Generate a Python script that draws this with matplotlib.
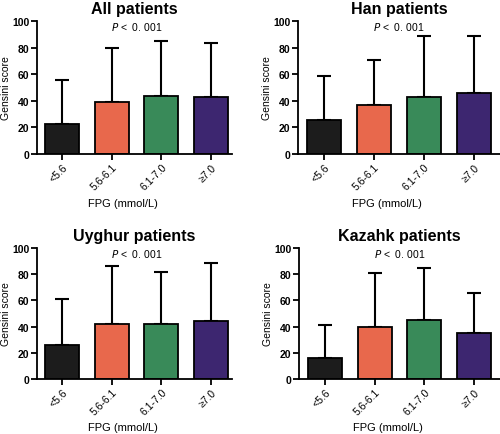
import numpy as np
import matplotlib.pyplot as plt

plt.rcParams['font.family'] = ['Liberation Sans', 'DejaVu Sans']

groups = ['<5.6', '5.6-6.1', '6.1-7.0', '≥7.0']
colors = ['#1c1c1c', '#e8684c', '#398a59', '#3d2670']

titles = ['All patients', 'Han patients', 'Uyghur patients', 'Kazahk patients']
means = [
    [22.6, 39.3, 43.4, 42.6],
    [25.6, 36.7, 42.5, 45.7],
    [25.6, 42.1, 42.1, 44.6],
    [16.0, 40.0, 45.3, 34.8],
]
upper = [
    [55.6, 79.4, 84.7, 83.7],
    [58.8, 70.9, 88.4, 88.7],
    [61.2, 86.0, 81.5, 88.5],
    [41.3, 80.8, 84.8, 65.5],
]

W, H = 500, 435
# axes boxes in pixels: left, top, right, bottom
boxes = [(37, 22, 232, 155), (298, 22, 500, 155),
         (37, 249, 232, 380), (299, 249, 500, 380)]
xlims = [(-0.5, 3.42), (-0.52, 3.52), (-0.5, 3.42), (-0.52, 3.52)]

fig = plt.figure(figsize=(W / 100, H / 100), dpi=100)

for i in range(4):
    l, t, r, b = boxes[i]
    ax = fig.add_axes([l / W, 1 - b / H, (r - l) / W, (b - t) / H])
    x = np.arange(len(groups))
    m = np.array(means[i])
    err = np.array(upper[i]) - m
    ax.bar(x, m, width=0.68, color=colors, edgecolor='black', linewidth=1.3, zorder=2)
    ax.errorbar(x, m, yerr=[np.zeros_like(err), err], fmt='none', ecolor='black',
                elinewidth=1.5, capsize=5, capthick=1.5, zorder=1)
    ax.set_ylim(0, 100)
    ax.set_xlim(*xlims[i])
    ax.set_yticks([0, 20, 40, 60, 80, 100])
    ax.set_xticks(x)
    ax.set_xticklabels(groups, rotation=45, ha='right', rotation_mode='anchor', fontsize=7.5)
    for lab in ax.get_yticklabels():
        lab.set_fontsize(7.5)
        lab.set_fontweight('bold')
    ax.spines['top'].set_visible(False)
    ax.spines['right'].set_visible(False)
    ax.spines['left'].set_linewidth(1.3)
    ax.spines['bottom'].set_linewidth(1.3)
    ax.tick_params(width=1.3, length=4, pad=1.5)
    ax.set_ylabel('Gensini score', fontsize=7.5, labelpad=1)
    ax.set_xlabel('FPG (mmol/L)', fontsize=8)
    ax.xaxis.set_label_coords(0.44, -0.33)
    ax.set_title(titles[i], fontsize=11.5, fontweight='bold', pad=6)
    ax.text(1.5, 96.5, r'$P$ <  0. 001', ha='center', va='center', fontsize=7.5)

fig.savefig('out.png', dpi=100)
